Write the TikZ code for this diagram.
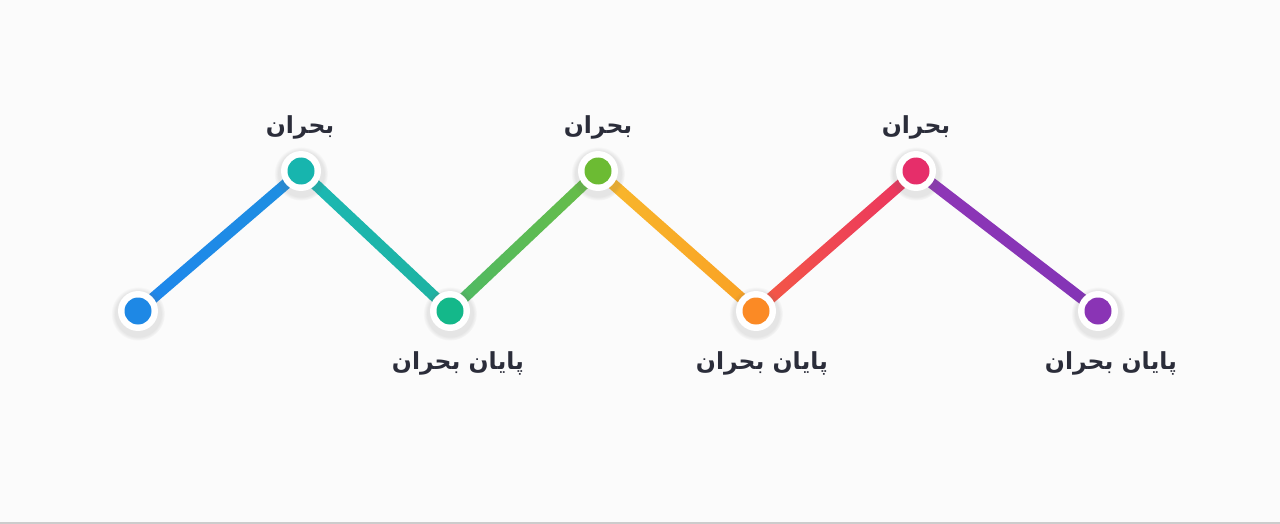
\documentclass[tikz,border=0pt]{standalone}
\usepackage{fontspec}
\newfontfamily\arabicfont[Script=Arabic]{DejaVu Sans}
\TeXXeTstate=1
\usetikzlibrary{calc,shadows}
\definecolor{bgc}{HTML}{FBFBFB}
\definecolor{txt}{HTML}{2B2D3A}
\definecolor{cA}{HTML}{1E88E5}
\definecolor{cB}{HTML}{17B5AE}
\definecolor{cC}{HTML}{14B88A}
\definecolor{cD}{HTML}{6CBB33}
\definecolor{cE}{HTML}{FB8A25}
\definecolor{cF}{HTML}{E62E6A}
\definecolor{cG}{HTML}{8A34B5}
\definecolor{sAa}{HTML}{1E86EC}
\definecolor{sAb}{HTML}{1E8FE0}
\definecolor{sBa}{HTML}{1BB8B4}
\definecolor{sBb}{HTML}{1EB2A0}
\definecolor{sCa}{HTML}{4DB966}
\definecolor{sCb}{HTML}{6ABD45}
\definecolor{sDa}{HTML}{F8B82C}
\definecolor{sDb}{HTML}{F9A024}
\definecolor{sEa}{HTML}{F45A44}
\definecolor{sEb}{HTML}{EA3262}
\definecolor{sFa}{HTML}{8F36B6}
\definecolor{sFb}{HTML}{8234B6}
\pgfdeclarelayer{bg}
\pgfdeclarelayer{lines}
\pgfsetlayers{bg,lines,main}
\tikzset{
  dotnode/.style={circle, fill=white, minimum size=40pt, inner sep=0pt,
    circular drop shadow={shadow xshift=0pt, shadow yshift=-2pt, shadow scale=1.35, opacity=0.14, fill=black!60},
    path picture={\fill[#1] (path picture bounding box.center) circle (13.5pt);}},
  lbl/.style={text=txt, font=\arabicfont\bfseries\fontsize{23.5}{26}\selectfont, inner sep=0pt}
}
\newcommand\segline[4]{%
  \shade[left color=#3, right color=#4]
    ($(#1)!5.5pt!90:(#2)$) -- ($(#2)!5.5pt!-90:(#1)$) --
    ($(#2)!5.5pt!90:(#1)$) -- ($(#1)!5.5pt!-90:(#2)$) -- cycle;}
\begin{document}
\begin{tikzpicture}[x=1pt,y=-1pt]
\useasboundingbox (0,0) rectangle (1280,524);
\begin{pgfonlayer}{bg}
  \fill[bgc] (0,0) rectangle (1280,524);
  \fill[black!20] (0,522) rectangle (1280,524);
\end{pgfonlayer}
\node[dotnode=cA] (n1) at (138,311) {};
\node[dotnode=cB] (n2) at (301,171) {};
\node[dotnode=cC] (n3) at (450,311) {};
\node[dotnode=cD] (n4) at (598,171) {};
\node[dotnode=cE] (n5) at (756,311) {};
\node[dotnode=cF] (n6) at (916,171) {};
\node[dotnode=cG] (n7) at (1098,311) {};
\begin{pgfonlayer}{lines}
  \segline{n1}{n2}{sAa}{sAb}
  \segline{n2}{n3}{sBa}{sBb}
  \segline{n3}{n4}{sCa}{sCb}
  \segline{n4}{n5}{sDa}{sDb}
  \segline{n5}{n6}{sEa}{sEb}
  \segline{n6}{n7}{sFa}{sFb}
\end{pgfonlayer}
\node[lbl] (t2) at (300,127) {\beginR بحران\endR};
\node[lbl] (t4) at (598,127) {\beginR بحران\endR};
\node[lbl] (t6) at (916,127) {\beginR بحران\endR};
\node[lbl] (b3) at (458,363) {\beginR پایان بحران\endR};
\node[lbl] (b5) at (762,363) {\beginR پایان بحران\endR};
\node[lbl] (b7) at (1111,363) {\beginR پایان بحران\endR};
\end{tikzpicture}
\end{document}
